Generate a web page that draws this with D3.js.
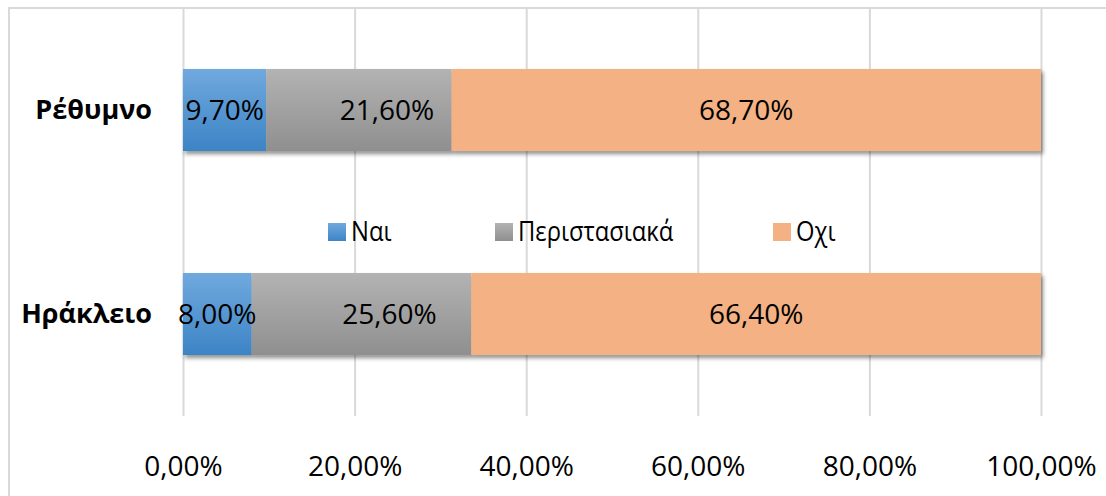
<!DOCTYPE html>
<html>
<head>
<meta charset="utf-8">
<script src="https://cdn.jsdelivr.net/npm/d3@7"></script>
<style>
  body { margin: 0; background: #fff; }
  text { font-family: "Open Sans", "Liberation Sans", sans-serif; fill: #000; }
</style>
</head>
<body>
<div id="chart"></div>
<script>
// data
var cities = ["Ρέθυμνο", "Ηράκλειο"];
var seriesNames = ["Ναι", "Περιστασιακά", "Οχι"];
var nai = [9.7, 8.0];
var peri = [21.6, 25.6];
var ochi = [68.7, 66.4];
var tickValues = [0, 20, 40, 60, 80, 100];

var w = 1106, h = 496;
var margin = {top: 8, right: 65, bottom: 80, left: 183};

var svg = d3.select("#chart").append("svg")
  .attr("width", w)
  .attr("height", h);

var grLocale = d3.formatLocale({decimal: ",", thousands: ".", grouping: [3], currency: ["", "€"]});
var fmt = grLocale.format(".2f");

var rows = cities.map(function(c, i) {
  return {city: c, "Ναι": nai[i], "Περιστασιακά": peri[i], "Οχι": ochi[i]};
});
var stacked = d3.stack().keys(seriesNames)(rows);

var x = d3.scaleLinear().domain([0, 100]).range([margin.left, w - margin.right]);
var y = d3.scaleBand().domain(cities).range([margin.top, h - margin.bottom])
  .paddingInner(0.598).paddingOuter(0.299);

// gradients + shadow
var defs = svg.append("defs");
var grads = [
  {id: "gBlue", top: "#70a9de", bottom: "#3d84c6"},
  {id: "gGray", top: "#b3b3b3", bottom: "#8f8f8f"},
  {id: "gOrange", top: "#f4b183", bottom: "#f4b183"}
];
grads.forEach(function(g) {
  var lg = defs.append("linearGradient").attr("id", g.id)
    .attr("x1", 0).attr("y1", 0).attr("x2", 0).attr("y2", 1);
  lg.append("stop").attr("offset", "0%").attr("stop-color", g.top);
  lg.append("stop").attr("offset", "100%").attr("stop-color", g.bottom);
});
var flt = defs.append("filter").attr("id", "shadow")
  .attr("x", "-5%").attr("y", "-20%").attr("width", "110%").attr("height", "150%");
flt.append("feDropShadow").attr("dx", 2).attr("dy", 3).attr("stdDeviation", 2)
  .attr("flood-color", "#000").attr("flood-opacity", 0.45);

var fills = {"Ναι": "url(#gBlue)", "Περιστασιακά": "url(#gGray)", "Οχι": "url(#gOrange)"};
var swatch = {"Ναι": "url(#gBlue)", "Περιστασιακά": "url(#gGray)", "Οχι": "#f4b183"};
var labelShift = {"Ναι": 0, "Περιστασιακά": 28, "Οχι": 0};

// chart area border
svg.append("rect")
  .attr("x", 9).attr("y", 8)
  .attr("width", w + 20).attr("height", h + 20)
  .attr("fill", "none")
  .attr("stroke", "#d9d9d9")
  .attr("stroke-width", 2);

// gridlines
svg.append("g")
  .attr("class", "grid")
  .attr("transform", "translate(0," + (h - margin.bottom) + ")")
  .call(d3.axisBottom(x).tickValues(tickValues).tickSize(-(h - margin.bottom - margin.top)).tickFormat(""))
  .call(function(g) { g.select(".domain").remove(); })
  .selectAll("line").attr("stroke", "#d9d9d9").attr("stroke-width", 2);

// x tick labels
svg.append("g")
  .attr("transform", "translate(0," + (h - margin.bottom) + ")")
  .call(d3.axisBottom(x).tickValues(tickValues).tickSize(0).tickPadding(40)
    .tickFormat(function(d) { return fmt(d) + "%"; }))
  .call(function(g) { g.select(".domain").remove(); })
  .selectAll("text")
  .style("font-family", "'Open Sans', 'Liberation Sans', sans-serif")
  .attr("font-size", "28px")
  .attr("fill", "#000");

// bars
var layer = svg.append("g").attr("filter", "url(#shadow)");
stacked.forEach(function(s) {
  layer.selectAll(".bar-" + s.index)
    .data(s)
    .enter().append("rect")
    .attr("class", "bar")
    .attr("x", function(d) { return x(d[0]); })
    .attr("y", function(d) { return y(d.data.city); })
    .attr("width", function(d) { return x(d[1]) - x(d[0]); })
    .attr("height", y.bandwidth())
    .attr("fill", fills[s.key]);
});

// value labels
stacked.forEach(function(s) {
  svg.selectAll(".lbl-" + s.index)
    .data(s)
    .enter().append("text")
    .attr("x", function(d) { return (x(d[0]) + x(d[1])) / 2 + labelShift[s.key]; })
    .attr("y", function(d) { return y(d.data.city) + y.bandwidth() / 2; })
    .attr("dy", "0.35em")
    .attr("text-anchor", "middle")
    .attr("font-size", "28px")
    .text(function(d) { return fmt(d.data[s.key]) + "%"; });
});

// category labels
svg.selectAll(".cat")
  .data(cities)
  .enter().append("text")
  .attr("x", margin.left - 31)
  .attr("y", function(d) { return y(d) + y.bandwidth() / 2; })
  .attr("dy", "0.35em")
  .attr("text-anchor", "end")
  .attr("font-size", "27px")
  .attr("font-weight", "bold")
  .text(function(d) { return d; });

// legend (text squeezed a little, the original font is narrower)
var legX = [328, 495, 773];
var legY = 232;
var leg = svg.append("g");
seriesNames.forEach(function(n, i) {
  leg.append("rect")
    .attr("x", legX[i]).attr("y", legY - 9)
    .attr("width", 18).attr("height", 18)
    .attr("fill", swatch[n]);
  leg.append("text")
    .attr("transform", "translate(" + (legX[i] + 23) + "," + legY + ") scale(0.88,1)")
    .attr("dy", "0.35em")
    .attr("font-size", "27px")
    .text(n);
});
</script>
</body>
</html>
